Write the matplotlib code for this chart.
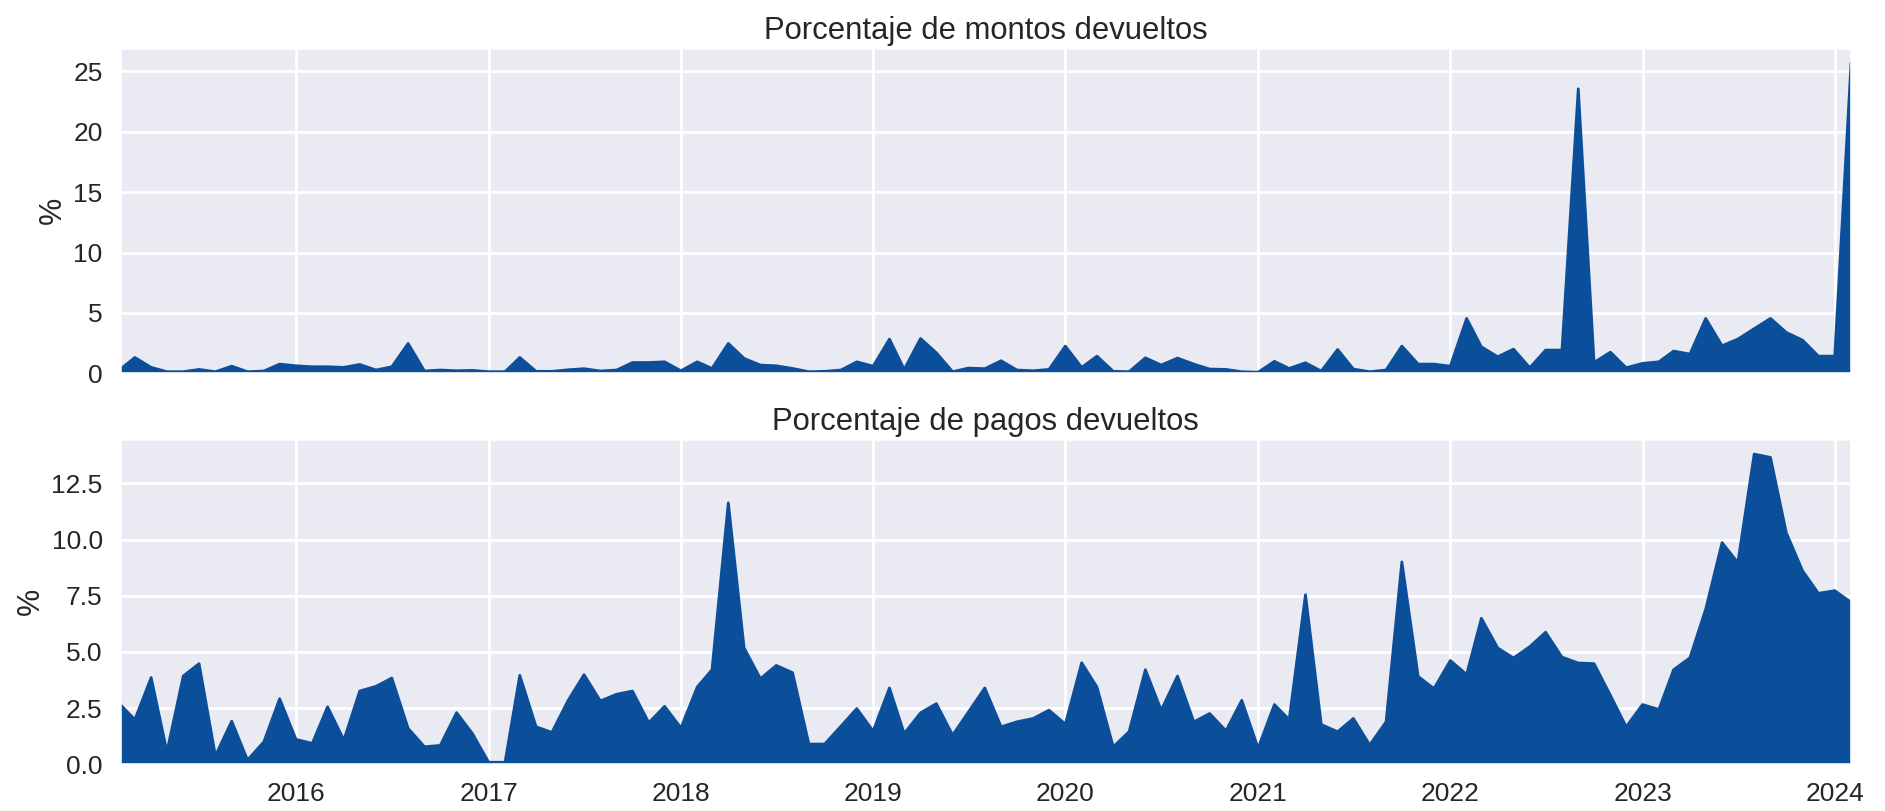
import matplotlib
matplotlib.use("Agg")
import matplotlib.pyplot as plt
import matplotlib.dates as mdates
import numpy as np
import pandas as pd
import seaborn as sns

# Monthly series, Feb 2015 - Feb 2024
fechas = pd.date_range("2015-02-01", periods=109, freq="MS")

montos_devueltos = [
    0.33, 1.32, 0.5, 0.14, 0.14, 0.33, 0.14, 0.6, 0.14, 0.2, 0.77, 0.63,
    0.55, 0.55, 0.5, 0.74, 0.28, 0.55, 2.48, 0.2, 0.28, 0.22, 0.25, 0.14,
    0.14, 1.32, 0.17, 0.17, 0.3, 0.39, 0.2, 0.28, 0.9, 0.9, 0.96, 0.22,
    0.96, 0.41, 2.48, 1.24, 0.69, 0.63, 0.41, 0.14, 0.17, 0.28, 0.96, 0.6,
    2.84, 0.33, 2.89, 1.71, 0.14, 0.44, 0.39, 1.05, 0.28, 0.22, 0.33, 2.26,
    0.5, 1.43, 0.17, 0.14, 1.29, 0.69, 1.27, 0.77, 0.36, 0.33, 0.14, 0.1,
    1.0, 0.41, 0.88, 0.19, 1.98, 0.36, 0.14, 0.28, 2.26, 0.77, 0.77, 0.6,
    4.55, 2.2, 1.38, 2.01, 0.47, 1.93, 1.93, 23.55, 0.91, 1.76, 0.47, 0.83,
    0.96, 1.85, 1.6, 4.55, 2.29, 2.84, 3.7, 4.55, 3.39, 2.75, 1.43, 1.43,
    25.67,
]

pagos_devueltos = [
    2.67, 1.99, 3.86, 0.56, 3.93, 4.48, 0.38, 1.92, 0.19, 1.0, 2.92, 1.11,
    0.93, 2.56, 1.08, 3.26, 3.47, 3.84, 1.6, 0.78, 0.84, 2.3, 1.37, 0.09,
    0.09, 3.96, 1.67, 1.42, 2.85, 3.99, 2.82, 3.12, 3.26, 1.85, 2.58, 1.62,
    3.44, 4.21, 11.64, 5.18, 3.81, 4.4, 4.08, 0.9, 0.9, 1.7, 2.48, 1.48,
    3.4, 1.37, 2.29, 2.7, 1.3, 2.33, 3.4, 1.67, 1.89, 2.04, 2.41, 1.79,
    4.52, 3.44, 0.78, 1.45, 4.21, 2.41, 3.93, 1.89, 2.26, 1.49, 2.85, 0.72,
    2.66, 1.99, 7.55, 1.77, 1.45, 2.04, 0.86, 1.89, 9.01, 3.91, 3.37, 4.62,
    4.0, 6.5, 5.18, 4.73, 5.24, 5.88, 4.77, 4.51, 4.48, 3.07, 1.67, 2.66,
    2.44, 4.21, 4.74, 6.91, 9.87, 8.98, 13.81, 13.66, 10.31, 8.61, 7.61, 7.73,
    7.21,
]

titulos = ["Porcentaje de montos devueltos", "Porcentaje de pagos devueltos"]

sns.set_theme(style="darkgrid", context="talk")
plt.rcParams["font.family"] = ["Liberation Sans", "DejaVu Sans"]
plt.rcParams["grid.linewidth"] = 2

color = "#0b4f9b"

fig, axes = plt.subplots(2, 1, figsize=(18.85, 8.11), dpi=100, sharex=True)
fig.subplots_adjust(left=0.0637, right=0.982, top=0.9412, bottom=0.0576, hspace=0.2)

for ax, serie, titulo in zip(axes, [montos_devueltos, pagos_devueltos], titulos):
    ax.fill_between(fechas, serie, color=color, linewidth=0)
    ax.plot(fechas, serie, color=color, linewidth=2)
    ax.set_title(titulo, fontsize=22.3)
    ax.set_ylabel("%", fontsize=22)
    ax.tick_params(axis="both", labelsize=19)
    ax.set_ylim(0, max(serie) * 1.05)
    ax.set_xlim(fechas[0], fechas[-1])

axes[1].xaxis.set_major_locator(mdates.YearLocator())
axes[1].xaxis.set_major_formatter(mdates.DateFormatter("%Y"))

fig.savefig("out.png", dpi=100)
